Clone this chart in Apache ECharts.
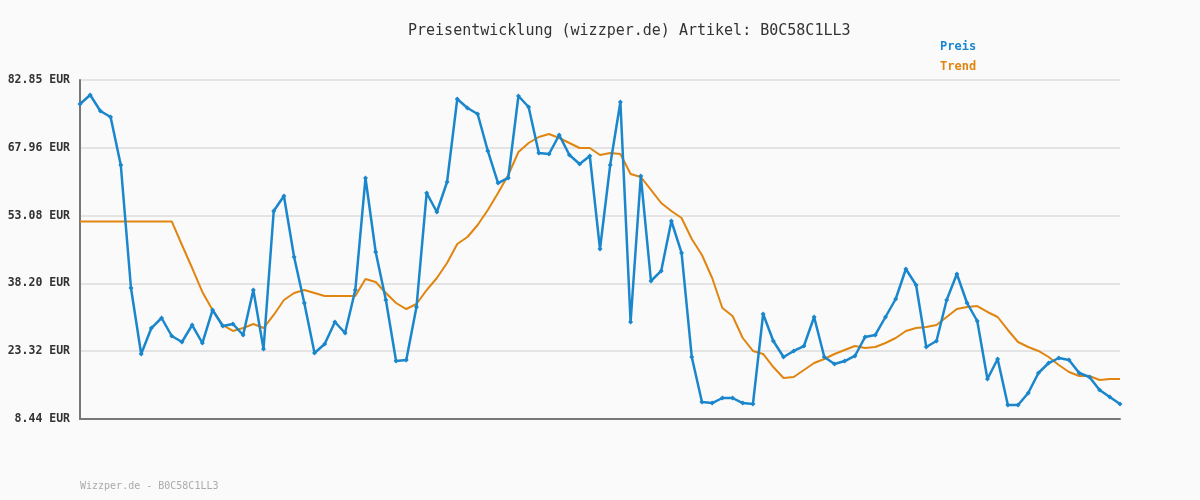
<!DOCTYPE html>
<html><head><meta charset="utf-8">
<script src="https://cdn.jsdelivr.net/npm/echarts@6/dist/echarts.min.js"></script>
<style>html,body{margin:0;background:#fafafa}#c{width:1200px;height:500px}</style>
</head><body><div id="c"></div>
<script>
// price readings, oldest to newest
const preis = [77.58,79.56,76.05,74.73,64.19,37.19,22.71,28.41,30.61,26.66,25.34,29.07,25.12,32.36,28.85,29.29,26.88,36.75,23.80,54.10,
  57.39,44.00,33.90,22.93,24.90,29.73,27.32,36.75,61.34,45.10,34.56,21.17,21.39,33.02,58.05,53.88,60.46,78.68,76.70,75.39,
  67.27,60.24,61.34,79.34,76.92,66.83,66.61,70.78,66.39,64.41,66.17,45.75,64.19,78.02,29.73,61.78,38.73,40.93,51.90,44.88,
  22.05,12.17,11.95,13.05,13.05,11.95,11.73,31.49,25.56,22.05,23.37,24.46,30.83,22.05,20.51,21.17,22.27,26.44,26.88,30.83,
  34.78,41.36,37.85,24.24,25.56,34.56,40.27,33.90,29.95,17.22,21.61,11.51,11.51,14.15,18.54,20.73,21.83,21.39,18.54,17.66,
  14.80,13.27,11.73];
const trend = [51.8,51.8,51.8,51.8,51.8,51.8,51.8,51.8,51.8,51.8,46.63,41.58,36.32,32.36,29.07,27.76,28.41,29.29,28.41,31.27,
  34.56,36.10,36.75,36.10,35.44,35.44,35.44,35.44,39.17,38.51,36.10,33.90,32.58,33.68,36.75,39.39,42.68,46.85,48.39,51.02,
  54.32,58.05,62.00,67.05,69.02,70.34,71.00,70.12,69.02,67.92,67.92,66.39,66.83,66.61,62.22,61.56,58.71,55.85,54.10,52.56,
  47.95,44.44,39.39,32.80,31.05,26.22,23.37,22.71,19.85,17.44,17.66,19.19,20.73,21.61,22.71,23.59,24.46,24.02,24.24,25.12,
  26.22,27.76,28.41,28.63,29.07,30.83,32.58,33.02,33.24,31.93,30.83,27.98,25.34,24.24,23.37,22.05,20.29,18.76,17.88,17.88,
  17.00,17.22,17.22];
const ticks = [8.44, 23.32, 38.20, 53.08, 67.96, 82.85];
const cats = preis.map((_, i) => i + 1);

const mono = 'DejaVu Sans Mono';
const chart = echarts.init(document.getElementById('c'));
chart.setOption({
  backgroundColor: '#fafafa',
  animation: false,
  title: {
    text: 'Preisentwicklung (wizzper.de) Artikel: B0C58C1LL3',
    left: 403, top: 19,
    textStyle: { fontFamily: mono, fontSize: 15, fontWeight: 'normal', color: '#333' }
  },
  graphic: [
    { type: 'text', left: 940, top: 41, style: { text: 'Preis', fill: '#1a86cc', font: 'bold 12px "DejaVu Sans Mono"' } },
    { type: 'text', left: 940, top: 61, style: { text: 'Trend', fill: '#e0850f', font: 'bold 12px "DejaVu Sans Mono"' } },
    { type: 'text', left: 80, top: 481, style: { text: 'Wizzper.de - B0C58C1LL3', fill: '#aaa', font: '10px "DejaVu Sans Mono"' } }
  ],
  grid: { left: 80, right: 80, top: 80, bottom: 81 },
  xAxis: {
    type: 'category', data: cats, boundaryGap: false,
    axisLine: { lineStyle: { color: '#777', width: 2 } },
    axisTick: { show: false }, axisLabel: { show: false }, splitLine: { show: false }
  },
  yAxis: {
    type: 'value', min: 8.44, max: 82.85,
    axisLine: { show: true, lineStyle: { color: '#777', width: 2 } },
    axisTick: { show: false, customValues: ticks },
    axisLabel: {
      customValues: ticks, margin: 10, fontFamily: mono, fontSize: 11.5, color: '#333', fontWeight: 'bold',
      formatter: v => v.toFixed(2) + ' EUR'
    },
    splitLine: { lineStyle: { color: '#e4e4e4', width: 2 } }
  },
  series: [
    { name: 'Trend', type: 'line', data: trend, symbol: 'none',
      lineStyle: { color: '#e0850f', width: 2 } },
    { name: 'Preis', type: 'line', data: preis, symbol: 'diamond', symbolSize: 5,
      itemStyle: { color: '#1a86cc' }, lineStyle: { color: '#1a86cc', width: 2.5 } }
  ]
});
</script></body></html>
